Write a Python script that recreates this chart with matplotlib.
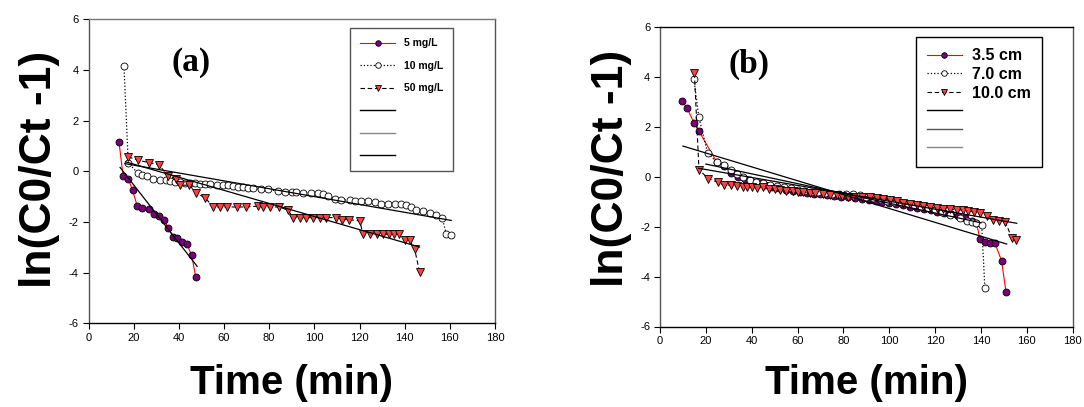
import matplotlib
matplotlib.use("Agg")
import matplotlib.pyplot as plt
from matplotlib.lines import Line2D

plt.rcParams['font.family'] = ['Liberation Sans', 'DejaVu Sans']
plt.rcParams['axes.unicode_minus'] = False

# ---------------- Panel (a) data ----------------
a5_x = [13.5, 15.3, 17.6, 19.5, 21.6, 23.8, 26.9, 29.0, 31.2, 33.4, 35.3, 37.5, 39.4, 41.4, 43.5, 45.7, 47.5]
a5_y = [1.16, -0.17, -0.29, -0.75, -1.38, -1.46, -1.49, -1.67, -1.78, -1.91, -2.23, -2.60, -2.62, -2.81, -2.86, -3.32, -4.19]

a10_x = [15.7, 17.6, 21.7, 23.8, 26.1, 28.7, 31.6, 34.3, 36.1, 38.3, 40.5, 42.7, 44.9, 47.1, 49.3, 51.5,
         53.7, 56.7, 59.6, 61.8, 64.1, 66.3, 68.5, 70.7, 72.9, 76.6, 79.5, 83.9, 86.9, 89.9, 92.1, 95.0,
         98.7, 101.6, 103.8, 106.0, 109.1, 112.0, 115.7, 117.9, 120.8, 123.7, 126.7, 129.7, 132.6, 135.6,
         138.5, 140.7, 142.9, 145.1, 148.0, 151.1, 154.0, 156.6, 158.4, 160.6]
a10_y = [4.16, 0.34, -0.07, -0.13, -0.17, -0.29, -0.33, -0.36, -0.38, -0.42, -0.42, -0.46, -0.46, -0.45, -0.49, -0.49,
         -0.51, -0.55, -0.55, -0.55, -0.59, -0.64, -0.64, -0.68, -0.68, -0.72, -0.72, -0.78, -0.82, -0.83, -0.83, -0.86,
         -0.86, -0.86, -0.91, -0.99, -1.08, -1.12, -1.15, -1.17, -1.17, -1.19, -1.21, -1.30, -1.30, -1.30,
         -1.30, -1.34, -1.43, -1.51, -1.57, -1.65, -1.74, -1.83, -2.46, -2.53]

a50_x = [17.6, 22.0, 26.9, 31.2, 35.3, 38.6, 40.5, 44.6, 47.8, 51.8, 55.2, 58.1, 61.4, 65.6, 69.6, 74.9,
         77.1, 80.2, 84.4, 88.4, 90.6, 93.5, 96.5, 99.4, 102.3, 105.1, 109.8, 112.4, 115.3, 120.1, 121.5,
         124.8, 127.7, 130.6, 133.1, 135.2, 137.4, 140.0, 142.2, 144.4, 146.6]
a50_y = [0.57, 0.43, 0.34, 0.26, -0.20, -0.29, -0.55, -0.55, -0.86, -1.06, -1.41, -1.41, -1.41, -1.41, -1.41, -1.38,
         -1.41, -1.41, -1.41, -1.54, -1.83, -1.83, -1.83, -1.83, -1.83, -1.83, -1.83, -1.91, -1.91, -1.96, -2.46,
         -2.49, -2.46, -2.49, -2.49, -2.49, -2.49, -2.70, -2.73, -3.06, -3.98]

# linear fit lines (end points) panel (a)
a_fit5_x = [14.0, 48.1]
a_fit5_y = [0.15, -3.75]
a_fit10_x = [16.2, 160.6]
a_fit10_y = [0.30, -1.94]
a_fit50_x = [16.5, 146.6]
a_fit50_y = [0.37, -2.99]

a_labels = ['5 mg/L', '10 mg/L', '50 mg/L']

# ---------------- Panel (b) data ----------------
b35_x = [9.7, 11.9, 14.8, 16.9, 24.7, 27.9, 31.0, 34, 37, 40, 43, 46, 49, 52, 55, 58, 61, 64, 67, 70, 73, 76,
         79, 82, 85, 88, 91, 94, 97, 100, 103, 106, 109, 112, 115, 118, 121, 124, 127, 130, 133, 136, 138,
         139.6, 141.7, 143.9, 146.1, 149.0, 150.9]
b35_y = [3.02, 2.73, 2.15, 1.83, 0.59, 0.42, 0.15, 0.0, -0.1, -0.2, -0.27, -0.33, -0.4, -0.46, -0.52, -0.56, -0.6,
         -0.64, -0.68, -0.7, -0.74, -0.77, -0.8, -0.83, -0.86, -0.9, -0.94, -0.98, -1.02, -1.06, -1.1, -1.15, -1.2,
         -1.25, -1.3, -1.35, -1.4, -1.45, -1.5, -1.58, -1.66, -1.76, -1.85, -2.51, -2.61, -2.65, -2.67, -3.38, -4.61]

b70_x = [14.8, 16.9, 20.8, 24.7, 27.9, 31.0, 33.7, 36.0, 39.3, 41.9, 45.1, 48, 51, 54, 57, 60, 63, 66, 69, 72,
         75, 78, 81, 84.0, 87.2, 90, 93, 96, 99, 102, 105, 108, 111, 114, 117, 120, 123, 126.5, 130.8, 133.8,
         135.9, 137.8, 140.3, 141.7]
b70_y = [3.90, 2.39, 0.93, 0.59, 0.45, 0.25, 0.10, -0.03, -0.14, -0.21, -0.27, -0.32, -0.36, -0.42, -0.47, -0.52,
         -0.56, -0.6, -0.63, -0.66, -0.68, -0.7, -0.71, -0.70, -0.74, -0.8, -0.85, -0.9, -0.96, -1.0, -1.06, -1.1,
         -1.15, -1.2, -1.26, -1.32, -1.4, -1.54, -1.67, -1.77, -1.81, -1.85, -1.94, -4.47]

b100_x = [15.0, 17.0, 21.1, 25.2, 27.9, 31.0, 33.7, 36.0, 38.1, 40.0, 42.2, 45.1, 47.7, 50.2, 52.3, 55.0, 57.9,
          60.4, 62.5, 65.4, 67.6, 71.2, 74.1, 77.0, 79.2, 82.1, 84.3, 88.0, 91.6, 94.5, 97.4, 100.3, 103.2,
          106.1, 109.1, 112.0, 114.9, 117.8, 120.7, 123.6, 126.5, 129.4, 132.3, 134.5, 136.9, 139.6, 142.5,
          145.4, 148.0, 150.6, 153.5, 155.3]
b100_y = [4.13, 0.27, -0.08, -0.23, -0.34, -0.34, -0.38, -0.41, -0.41, -0.43, -0.47, -0.43, -0.50, -0.51, -0.54,
          -0.57, -0.58, -0.61, -0.61, -0.65, -0.67, -0.70, -0.74, -0.74, -0.78, -0.81, -0.81, -0.81, -0.81, -0.86,
          -0.90, -0.94, -0.99, -1.04, -1.10, -1.14, -1.17, -1.21, -1.25, -1.28, -1.31, -1.33, -1.34, -1.37, -1.41,
          -1.47, -1.56, -1.74, -1.77, -1.81, -2.47, -2.54]

b_fit35_x = [10.0, 151.2]
b_fit35_y = [1.22, -2.70]
b_fit70_x = [20.0, 140.0]
b_fit70_y = [0.50, -1.85]
b_fit100_x = [16.9, 155.6]
b_fit100_y = [0.33, -1.87]

b_labels = ['3.5 cm', '7.0 cm', '10.0 cm']

x_ticks = [0, 20, 40, 60, 80, 100, 120, 140, 160, 180]
y_ticks = [-6, -4, -2, 0, 2, 4, 6]

PURPLE = '#7a007a'
RED = '#ff4040'
MS = 5.0

fig = plt.figure(figsize=(10.84, 4.07), dpi=100)
W, H = 1084.0, 407.0

def make_ax(l, r, t, b):
    return fig.add_axes([l / W, 1 - b / H, (r - l) / W, (b - t) / H])

A_L, A_R, A_T, A_B = 88.5, 495.0, 19.2, 323.3
B_L, B_R, B_T, B_B = 660.0, 1072.7, 26.6, 326.5
axA = make_ax(A_L, A_R, A_T, A_B)
axB = make_ax(B_L, B_R, B_T, B_B)


def draw(ax, s1, s2, s3, fits, labels, fitcolors):
    (x1, y1), (x2, y2), (x3, y3) = s1, s2, s3
    h1, = ax.plot(x1, y1, '-', color='red', lw=0.8, marker='o', ms=MS,
                  mfc=PURPLE, mec='black', mew=0.6, zorder=3)
    h2, = ax.plot(x2, y2, ':', color='black', lw=0.9, marker='o', ms=MS,
                  mfc='white', mec='black', mew=0.6, zorder=4)
    h3, = ax.plot(x3, y3, '--', color='black', lw=0.8, dashes=(4, 2.5), marker='v', ms=MS + 0.6,
                  mfc=RED, mec='black', mew=0.6, zorder=5)
    fh = []
    for (fx, fy), c in zip(fits, fitcolors):
        ax.plot(fx, fy, '-', color='black', lw=0.9, zorder=6)
        fh.append(Line2D([], [], color=c, lw=1.0))
    ax.set_xlim(0, 180)
    ax.set_ylim(-6, 6)
    ax.set_xticks(x_ticks)
    ax.set_yticks(y_ticks)
    ax.tick_params(direction='out', length=4, width=0.8, labelsize=8, colors='black', pad=3)
    for sp in ax.spines.values():
        sp.set_linewidth(1.0)
    ax.spines['left'].set_color('#555555')
    ax.spines['right'].set_color('#555555')
    ax.set_xlabel('Time (min)', fontsize=29, fontweight='bold')
    ax.set_ylabel('ln(C0/Ct -1)', fontsize=32, fontweight='bold')
    return [h1, h2, h3] + fh, list(labels) + ['', '', '']


hA, lA = draw(axA, (a5_x, a5_y), (a10_x, a10_y), (a50_x, a50_y),
              [(a_fit5_x, a_fit5_y), (a_fit10_x, a_fit10_y), (a_fit50_x, a_fit50_y)],
              a_labels, ['black', '#888888', 'black'])
hB, lB = draw(axB, (b35_x, b35_y), (b70_x, b70_y), (b100_x, b100_y),
              [(b_fit35_x, b_fit35_y), (b_fit70_x, b_fit70_y), (b_fit100_x, b_fit100_y)],
              b_labels, ['black', '#555555', '#888888'])

axA.spines['top'].set_color('#777777')

aw, ah = A_R - A_L, A_B - A_T
bw, bh = B_R - B_L, B_B - B_T

# axis label positions
axA.xaxis.set_label_coords(0.5, (A_B - 383) / ah)
axA.xaxis.label.set_va('center')
axA.yaxis.set_label_coords((40 - A_L) / aw, (A_B - 169) / ah)
axA.yaxis.label.set_va('center')
axB.xaxis.set_label_coords(0.5, (B_B - 383) / bh)
axB.xaxis.label.set_va('center')
axB.yaxis.set_label_coords((611 - B_L) / bw, (B_B - 168) / bh)
axB.yaxis.label.set_va('center')

# panel letters
axA.text(45.3, 4.3, '(a)', fontsize=24, fontweight='bold', family='Liberation Serif',
         ha='center', va='center')
axB.text(38.8, 4.5, '(b)', fontsize=24, fontweight='bold', family='Liberation Serif',
         ha='center', va='center')

# legends
legA = axA.legend(hA, lA, loc='upper left', bbox_to_anchor=((350 - A_L) / aw, (A_B - 28) / ah),
                  prop={'size': 7.5, 'weight': 'bold'}, frameon=True, fancybox=False,
                  edgecolor='#555555', framealpha=1, handlelength=3.3, handletextpad=0.85,
                  labelspacing=1.2, borderpad=1.0, markerscale=0.8, borderaxespad=0)
legA.get_frame().set_linewidth(1.0)

legB = axB.legend(hB, lB, loc='upper left', bbox_to_anchor=((915.7 - B_L) / bw, (B_B - 37.3) / bh),
                  prop={'size': 11.5, 'weight': 'bold'}, frameon=True, fancybox=False,
                  edgecolor='black', framealpha=1, handlelength=2.2, handletextpad=0.6,
                  labelspacing=0.22, borderpad=0.7, markerscale=0.8, borderaxespad=0)
legB.get_frame().set_linewidth(1.0)

fig.savefig('out.png', dpi=100)
